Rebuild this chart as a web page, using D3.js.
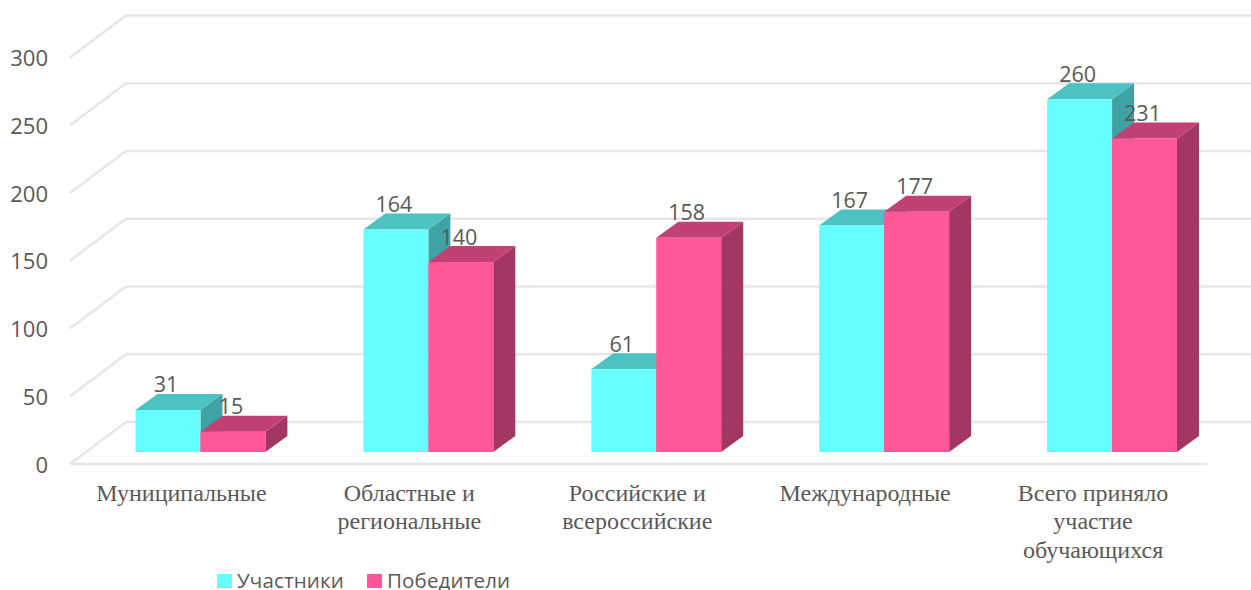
<!DOCTYPE html>
<html><head><meta charset="utf-8">
<script src="https://cdn.jsdelivr.net/npm/d3@7"></script>
<style>html,body{margin:0;padding:0;background:#fff}svg{display:block}</style>
</head><body><svg id="c" width="1251" height="590"></svg>
<script>
const categories = [["Муниципальные"],["Областные и","региональные"],["Российские и","всероссийские"],["Международные"],["Всего приняло","участие","обучающихся"]];
const seriesNames = ["Участники","Победители"];
const participants = [31,164,61,167,260];
const winners = [15,140,158,177,231];
const yTicks = [0,50,100,150,200,250,300];
const colors = {"Участники":{front:"#66ffff",top:"#4dc2c2",side:"#40a3a3"},"Победители":{front:"#ff5797",top:"#c24174",side:"#a33663"}};

const svg = d3.select("#c");
const depthX = 22, depthY = -16;
const keys = categories.map(c=>c.join(" "));
const x = d3.scaleBand().domain(keys).range([86.5,1226]).paddingInner(0.43).paddingOuter(0.215);
const x1 = d3.scaleBand().domain(seriesNames).range([0,x.bandwidth()]);
const yBar = d3.scaleLinear().domain([0,300]).range([452,45]);
const yFront = d3.scaleLinear().domain([0,300]).range([464,57.5]);
const wallDX = 56, wallDY = -42;
const grid = "#e7e7e7";

// walls
svg.append("g").selectAll("line").data(yTicks).join("line")
  .attr("x1",126).attr("x2",1251)
  .attr("y1",d=>yFront(d)+wallDY).attr("y2",d=>yFront(d)+wallDY)
  .attr("stroke",grid).attr("stroke-width",2.5);
svg.append("g").selectAll("line").data(yTicks).join("line")
  .attr("x1",70).attr("x2",70+wallDX)
  .attr("y1",d=>yFront(d)).attr("y2",d=>yFront(d)+wallDY)
  .attr("stroke",grid).attr("stroke-width",2.5);
svg.append("line").attr("x1",70).attr("x2",1207).attr("y1",yFront(0)).attr("y2",yFront(0))
  .attr("stroke",grid).attr("stroke-width",2.5);

// y axis
const yAxis = svg.append("g").attr("transform","translate(58,0)")
  .call(d3.axisLeft(yFront).tickValues(yTicks).tickSize(0).tickPadding(10));
yAxis.select(".domain").remove();
yAxis.selectAll("text").attr("font-family","'Open Sans'").attr("font-size",22).attr("fill","#595959").attr("dy","0.37em");

// bars
const rows = keys.flatMap((k,i)=>[
  {k,s:seriesNames[0],v:participants[i]},
  {k,s:seriesNames[1],v:winners[i]}
]);
const bar = svg.append("g").selectAll("g").data(rows).join("g");
const L = d=>x(d.k)+x1(d.s), R = d=>L(d)+x1.bandwidth(), T = d=>yBar(d.v), B = ()=>yBar(0);
bar.append("path").attr("fill",d=>colors[d.s].side)
  .attr("d",d=>`M${R(d)},${T(d)}L${R(d)+depthX},${T(d)+depthY}L${R(d)+depthX},${B()+depthY}L${R(d)},${B()}Z`);
bar.append("path").attr("fill",d=>colors[d.s].top)
  .attr("d",d=>`M${L(d)},${T(d)}L${L(d)+depthX},${T(d)+depthY}L${R(d)+depthX},${T(d)+depthY}L${R(d)},${T(d)}Z`);
bar.append("rect").attr("fill",d=>colors[d.s].front)
  .attr("x",L).attr("y",T).attr("width",x1.bandwidth()).attr("height",d=>B()-T(d));

// value labels
svg.append("g").selectAll("text").data(rows).join("text")
  .attr("x",d=>L(d)+x1.bandwidth()/2-2).attr("y",d=>T(d)-17.5)
  .attr("text-anchor","middle").attr("font-family","'Open Sans'").attr("font-size",21.5).attr("fill","#595959")
  .text(d=>d.v);

// category labels
const cat = svg.append("g").selectAll("text").data(categories).join("text")
  .attr("text-anchor","middle").attr("font-family","'Liberation Serif'").attr("font-size",24).attr("fill","#595959");
cat.selectAll("tspan").data((d,i)=>d.map((t,j)=>({t,j,k:keys[i]}))).join("tspan")
  .attr("x",d=>x(d.k)+x.bandwidth()/2-19).attr("y",d=>500.5+d.j*28.5).text(d=>d.t);

// legend
const legendX = d3.scaleOrdinal().domain(seriesNames).range([217,367]);
const lg = svg.append("g").selectAll("g").data(seriesNames).join("g").attr("transform",d=>`translate(${legendX(d)},574)`);
lg.append("rect").attr("width",15).attr("height",14).attr("fill",d=>colors[d].front);
lg.append("text").attr("x",20).attr("y",14).attr("font-family","'Open Sans'").attr("font-size",20.5).attr("letter-spacing",0.15).attr("fill","#595959").text(d=>d);
</script></body></html>
